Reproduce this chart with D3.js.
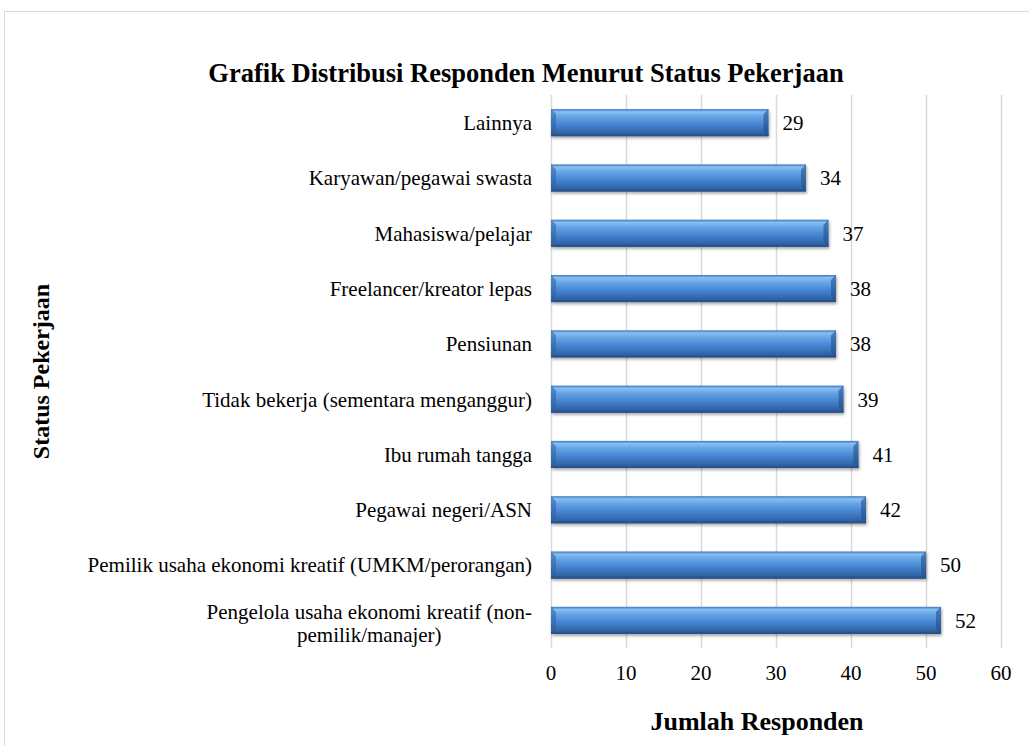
<!DOCTYPE html>
<html>
<head>
<meta charset="utf-8">
<script src="https://cdn.jsdelivr.net/npm/d3@7"></script>
<style>
  html, body { margin: 0; padding: 0; background: #fff; }
  svg { display: block; }
  svg text { font-family: "Liberation Serif", "Times New Roman", serif; }
</style>
</head>
<body>
<div id="chart"></div>
<script>
// data, top to bottom as drawn
const categories = [
  "Lainnya",
  "Karyawan/pegawai swasta",
  "Mahasiswa/pelajar",
  "Freelancer/kreator lepas",
  "Pensiunan",
  "Tidak bekerja (sementara menganggur)",
  "Ibu rumah tangga",
  "Pegawai negeri/ASN",
  "Pemilik usaha ekonomi kreatif (UMKM/perorangan)",
  "Pengelola usaha ekonomi kreatif (non-|pemilik/manajer)"
];
const values = [29, 34, 37, 38, 38, 39, 41, 42, 50, 52];
const xTicks = [0, 10, 20, 30, 40, 50, 60];

const width = 1029, height = 746;
const margin = {top: 95, right: 28, bottom: 98, left: 551};

const svg = d3.select("#chart").append("svg")
  .attr("width", width).attr("height", height);

const defs = svg.append("defs");
const grad = defs.append("linearGradient").attr("id", "barGrad")
  .attr("x1", 0).attr("y1", 0).attr("x2", 0).attr("y2", 1);
[[0, "#3a77c2"], [0.1, "#88bff3"], [0.28, "#64a4e6"], [0.6, "#4381ce"], [0.85, "#3367aa"], [1, "#285893"]]
  .forEach(([o, c]) => grad.append("stop").attr("offset", o).attr("stop-color", c));

const shadow = defs.append("filter").attr("id", "shadow")
  .attr("x", "-5%").attr("y", "-30%").attr("width", "110%").attr("height", "170%");
shadow.append("feDropShadow").attr("dx", 1).attr("dy", 2).attr("stdDeviation", 1.5)
  .attr("flood-color", "#000").attr("flood-opacity", 0.35);

// chart frame (cut off at right and bottom like the source)
svg.append("rect")
  .attr("x", 4.5).attr("y", 11.5).attr("width", 1100).attr("height", 900)
  .attr("fill", "none").attr("stroke", "#d9d9d9").attr("stroke-width", 1);

const x = d3.scaleLinear().domain([0, 60]).range([margin.left, width - margin.right]);
const y = d3.scaleBand().domain(categories).range([margin.top, height - margin.bottom]).paddingInner(0.51).paddingOuter(0.255);

// gridlines
svg.append("g").selectAll("line").data(xTicks).join("line")
  .attr("x1", d => Math.round(x(d)) + 0.5).attr("x2", d => Math.round(x(d)) + 0.5)
  .attr("y1", margin.top).attr("y2", height - margin.bottom)
  .attr("stroke", "#d9d9d9").attr("stroke-width", 1.5);

// tick labels
svg.append("g").selectAll("text").data(xTicks).join("text")
  .attr("x", d => x(d)).attr("y", 680)
  .attr("text-anchor", "middle").attr("font-size", 21).attr("fill", "#000")
  .text(d => d);

// bars
const bh = y.bandwidth(), bev = 5;
const bars = svg.append("g").selectAll("g").data(categories).join("g");
bars.append("rect")
  .attr("x", x(0)).attr("y", d => y(d))
  .attr("width", (d, i) => x(values[i]) - x(0)).attr("height", bh)
  .attr("fill", "url(#barGrad)").attr("filter", "url(#shadow)");
// left bevel
bars.append("path")
  .attr("d", d => `M${x(0)},${y(d)}L${x(0) + bev},${y(d) + bev}L${x(0) + bev},${y(d) + bh - bev}L${x(0)},${y(d) + bh}Z`)
  .attr("fill", "#2f5f9c").attr("opacity", 0.55);
// right bevel
bars.append("path")
  .attr("d", (d, i) => {
    const xe = x(values[i]);
    return `M${xe},${y(d)}L${xe - bev},${y(d) + bev}L${xe - bev},${y(d) + bh - bev}L${xe},${y(d) + bh}Z`;
  })
  .attr("fill", "#25508a").attr("opacity", 0.6);
// bottom edge
bars.append("rect")
  .attr("x", x(0)).attr("y", d => y(d) + bh - 2)
  .attr("width", (d, i) => x(values[i]) - x(0)).attr("height", 2)
  .attr("fill", "#27528c");

// value labels
svg.append("g").selectAll("text").data(categories).join("text")
  .attr("x", (d, i) => x(values[i]) + 14).attr("y", d => y(d) + bh / 2)
  .attr("dy", "0.35em").attr("font-size", 21).attr("fill", "#000")
  .text((d, i) => values[i]);

// category labels
const labelX = 532;
svg.append("g").selectAll("text").data(categories).join("text")
  .attr("font-size", 21).attr("fill", "#000")
  .each(function(d) {
    const lines = d.split("|");
    const t = d3.select(this);
    const cy = y(d) + bh / 2;
    if (lines.length === 1) {
      t.attr("x", labelX).attr("y", cy).attr("dy", "0.35em").attr("text-anchor", "end").text(d);
    } else {
      t.attr("text-anchor", "middle");
      t.append("tspan").attr("x", 0).attr("y", cy - 9).attr("dy", "0.35em").text(lines[0]);
      t.append("tspan").attr("x", 0).attr("y", cy + 14).attr("dy", "0.35em").text(lines[1]);
      const first = t.select("tspan").node().getComputedTextLength();
      t.selectAll("tspan").attr("x", labelX - first / 2);
    }
  });

// titles
svg.append("text")
  .attr("x", 526).attr("y", 82).attr("text-anchor", "middle")
  .attr("font-size", 26.5).attr("font-weight", "bold").attr("fill", "#000")
  .text("Grafik Distribusi Responden Menurut Status Pekerjaan");

svg.append("text")
  .attr("x", 757).attr("y", 730).attr("text-anchor", "middle")
  .attr("font-size", 26).attr("font-weight", "bold").attr("fill", "#000")
  .text("Jumlah Responden");

svg.append("text")
  .attr("transform", `translate(49,${(margin.top + height - margin.bottom) / 2}) rotate(-90)`)
  .attr("text-anchor", "middle")
  .attr("font-size", 24).attr("font-weight", "bold").attr("fill", "#000")
  .text("Status Pekerjaan");
</script>
</body>
</html>
